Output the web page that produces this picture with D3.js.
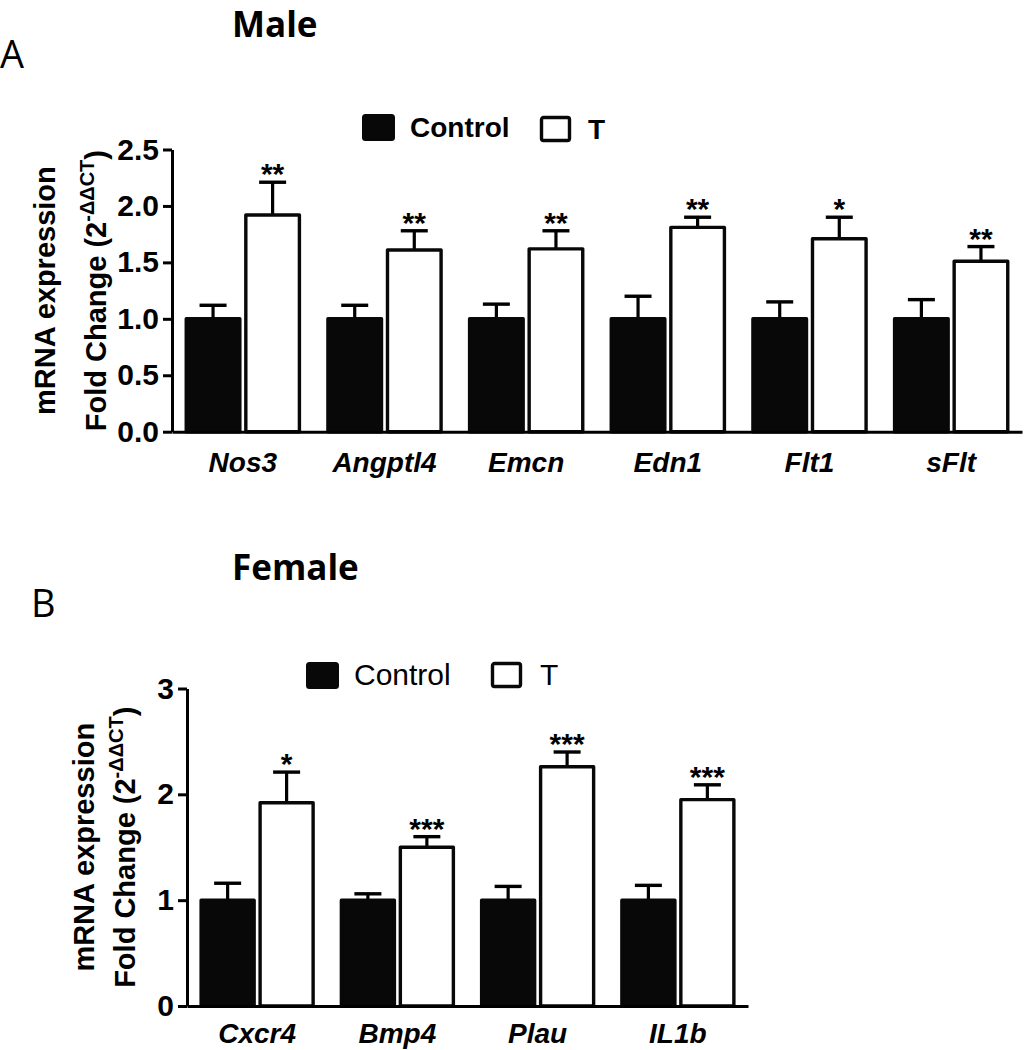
<!DOCTYPE html>
<html>
<head>
<meta charset="utf-8">
<script src="https://cdn.jsdelivr.net/npm/d3@7"></script>
<style>
  body { margin: 0; background: #fff; }
  svg { display: block; }
</style>
</head>
<body>
<svg id="fig" width="1026" height="1050"></svg>
<script>
var series = ["Control", "T"];

// panel A - male
var maleGenes = ["Nos3", "Angptl4", "Emcn", "Edn1", "Flt1", "sFlt"];
var maleControl = [1, 1, 1, 1, 1, 1];
var maleControlErr = [0.12, 0.12, 0.13, 0.20, 0.15, 0.17];
var maleT = [1.92, 1.61, 1.62, 1.81, 1.71, 1.51];
var maleTErr = [0.29, 0.17, 0.16, 0.09, 0.19, 0.13];
var maleSig = ["**", "**", "**", "**", "*", "**"];
var maleTicks = [0, 0.5, 1.0, 1.5, 2.0, 2.5];

// panel B - female
var femaleGenes = ["Cxcr4", "Bmp4", "Plau", "IL1b"];
var femaleControl = [1, 1, 1, 1];
var femaleControlErr = [0.16, 0.06, 0.13, 0.14];
var femaleT = [1.92, 1.50, 2.26, 1.95];
var femaleTErr = [0.29, 0.10, 0.14, 0.14];
var femaleSig = ["*", "***", "***", "***"];
var femaleTicks = [0, 1, 2, 3];

var arial = "'Liberation Sans', Arial, sans-serif",
    titleFont = "'Open Sans', 'Noto Sans', sans-serif";

var svg = d3.select("#fig");

var drawPanel = (p) => {

  var g = svg.append("g");

  var y = d3.scaleLinear()
    .domain([0, p.yMax])
    .range([p.bottom, p.top]);

  var x0 = d3.scaleBand()
    .domain(p.genes)
    .range([p.left, p.right])
    .paddingInner(0.18)
    .paddingOuter(0.09);

  var x1 = d3.scaleBand()
    .domain(series)
    .range([0, x0.bandwidth()])
    .paddingInner(0.05);

  var rows = p.genes.map((gene, i) => ({
    gene: gene,
    bars: [
      {key: "Control", value: p.control[i], err: p.controlErr[i]},
      {key: "T", value: p.t[i], err: p.tErr[i], sig: p.sig[i]}
    ]
  }));

  var groups = g.selectAll("g.gene")
    .data(rows)
    .enter().append("g")
      .attr("class", "gene")
      .attr("transform", d => `translate(${x0(d.gene)},0)`);

  var bars = groups.selectAll("g.bar")
    .data(d => d.bars)
    .enter().append("g")
      .attr("class", "bar");

  // error bars (upper half only) drawn behind the bars
  bars.append("line")
    .attr("x1", d => x1(d.key) + x1.bandwidth() / 2)
    .attr("x2", d => x1(d.key) + x1.bandwidth() / 2)
    .attr("y1", d => y(d.value))
    .attr("y2", d => y(d.value + d.err))
    .attr("stroke", "#000")
    .attr("stroke-width", 3.2);

  bars.append("line")
    .attr("x1", d => x1(d.key) + x1.bandwidth() / 2 - 13.5)
    .attr("x2", d => x1(d.key) + x1.bandwidth() / 2 + 13.5)
    .attr("y1", d => y(d.value + d.err))
    .attr("y2", d => y(d.value + d.err))
    .attr("stroke", "#000")
    .attr("stroke-width", 3.4);

  bars.append("rect")
    .attr("x", d => x1(d.key) + 1.5)
    .attr("y", d => y(d.value))
    .attr("width", x1.bandwidth() - 3)
    .attr("height", d => y(0) - y(d.value))
    .attr("fill", d => d.key == "Control" ? "#080808" : "#fff")
    .attr("stroke", "#080808")
    .attr("stroke-width", 3.4)
    .attr("stroke-linejoin", "round");

  bars.filter(d => d.sig)
    .append("text")
    .attr("x", d => x1(d.key) + x1.bandwidth() / 2)
    .attr("y", d => y(d.value + d.err) + 2)
    .attr("text-anchor", "middle")
    .attr("font-family", arial)
    .attr("font-size", 30)
    .attr("font-weight", "bold")
    .text(d => d.sig);

  // axes
  var xAxis = g.append("g")
    .attr("transform", `translate(0,${p.bottom})`)
    .call(d3.axisBottom(x0).tickSize(0).tickSizeOuter(0).tickPadding(p.xPad));

  xAxis.selectAll("text")
    .attr("font-family", arial)
    .attr("font-size", 28)
    .attr("font-weight", "bold")
    .attr("font-style", "italic")
    .attr("fill", "#000");

  var yAxis = g.append("g")
    .attr("transform", `translate(${p.left},0)`)
    .call(d3.axisLeft(y).tickValues(p.ticks).tickFormat(d3.format(p.fmt))
      .tickSize(9).tickSizeOuter(0).tickPadding(4));

  yAxis.selectAll("text")
    .attr("font-family", arial)
    .attr("font-size", 30)
    .attr("font-weight", "bold")
    .attr("fill", "#000");

  g.selectAll(".domain, .tick line")
    .attr("stroke", "#000")
    .attr("stroke-width", 3);

  // y label, two lines
  var labelY = (p.top + p.bottom) / 2;
  g.append("text")
    .attr("transform", `translate(${p.labelX1},${labelY}) rotate(-90)`)
    .attr("text-anchor", "middle")
    .attr("font-family", arial)
    .attr("font-size", 29)
    .attr("font-weight", "bold")
    .text("mRNA expression");

  var l2 = g.append("text")
    .attr("transform", `translate(${p.labelX2},${labelY}) rotate(-90)`)
    .attr("text-anchor", "middle")
    .attr("font-family", arial)
    .attr("font-size", 29)
    .attr("font-weight", "bold");
  l2.append("tspan").text("Fold Change (2");
  l2.append("tspan").attr("font-size", 20).attr("dy", -12).text("-\u0394\u0394CT");
  l2.append("tspan").attr("dy", 12).text(")");

  // legend
  var leg = g.append("g")
    .attr("transform", `translate(${p.legX},${p.legY})`);

  leg.append("rect")
    .attr("x", 1.5).attr("y", 1.5)
    .attr("width", 30).attr("height", 24)
    .attr("rx", 2)
    .attr("fill", "#080808")
    .attr("stroke", "#080808")
    .attr("stroke-width", 3);

  leg.append("text")
    .attr("x", p.legText1)
    .attr("y", 23)
    .attr("font-family", arial)
    .attr("font-size", p.legSize)
    .attr("font-weight", p.legWeight)
    .text(series[0]);

  leg.append("rect")
    .attr("x", p.legBox2 + 1.5).attr("y", p.legBox2Y + 1.5)
    .attr("width", 28).attr("height", 23)
    .attr("rx", 2)
    .attr("fill", "#fff")
    .attr("stroke", "#080808")
    .attr("stroke-width", 3.4);

  leg.append("text")
    .attr("x", p.legText2)
    .attr("y", 23 + p.legBox2Y)
    .attr("font-family", arial)
    .attr("font-size", p.legSize)
    .attr("font-weight", p.legWeight)
    .text(series[1]);

  // titles
  svg.append("text")
    .attr("x", p.titleX).attr("y", p.titleY)
    .attr("font-family", titleFont)
    .attr("font-size", 35)
    .attr("font-weight", "bold")
    .text(p.title);

  svg.append("text")
    .attr("x", p.letterX).attr("y", p.letterY)
    .attr("font-family", titleFont)
    .attr("font-size", 38)
    .text(p.letter);
};

drawPanel({
  genes: maleGenes, control: maleControl, controlErr: maleControlErr,
  t: maleT, tErr: maleTErr, sig: maleSig, ticks: maleTicks, fmt: ".1f",
  yMax: 2.5, top: 149.5, bottom: 431.7, left: 172, right: 1022, xPad: 20,
  labelX1: 55, labelX2: 106,
  legX: 362, legY: 114, legText1: 48, legBox2: 178, legBox2Y: 2, legText2: 226,
  legSize: 28, legWeight: "bold",
  title: "Male", titleX: 232, titleY: 37, letter: "A", letterX: 0, letterY: 68
});

drawPanel({
  genes: femaleGenes, control: femaleControl, controlErr: femaleControlErr,
  t: femaleT, tErr: femaleTErr, sig: femaleSig, ticks: femaleTicks, fmt: "d",
  yMax: 3, top: 688.5, bottom: 1006, left: 187, right: 748, xPad: 17,
  labelX1: 94, labelX2: 135,
  legX: 306, legY: 662, legText1: 48, legBox2: 185, legBox2Y: 0, legText2: 234,
  legSize: 30, legWeight: "normal",
  title: "Female", titleX: 232, titleY: 580, letter: "B", letterX: 31, letterY: 617
});
</script>
</body>
</html>
